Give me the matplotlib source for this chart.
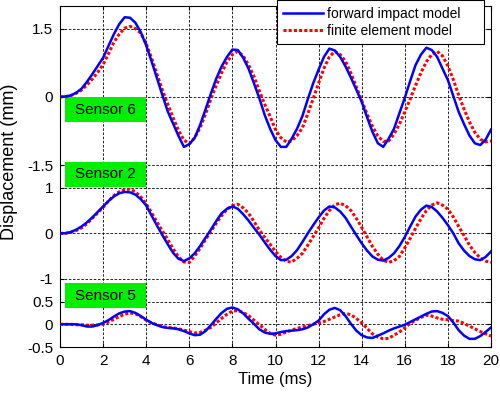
import numpy as np
import matplotlib
matplotlib.use("Agg")
import matplotlib.pyplot as plt
from matplotlib.patches import Rectangle

plt.rcParams["font.family"] = ["Liberation Sans", "DejaVu Sans"]

# time axis (ms), sampled every 0.25 ms
t = np.arange(0, 20.001, 0.25)

# sensor 6 (top trace)
s6_fim = [0, 0.01, 0.03, 0.09, 0.18, 0.33, 0.50, 0.68, 0.86, 1.12, 1.38, 1.60, 1.75, 1.74, 1.63, 1.42,
          1.13, 0.78, 0.41, 0.04, -0.32, -0.59, -0.86, -1.10, -1.04, -0.90, -0.62, -0.28, 0.07, 0.40, 0.67, 0.88,
          1.04, 1.03, 0.86, 0.62, 0.30, -0.03, -0.40, -0.70, -0.95, -1.10, -1.10, -0.92, -0.70, -0.42, -0.05, 0.30,
          0.60, 0.88, 1.06, 1.02, 0.88, 0.67, 0.42, 0.16, -0.11, -0.45, -0.77, -1.02, -1.10, -0.92, -0.70, -0.36,
          -0.02, 0.35, 0.70, 0.93, 1.08, 1.03, 0.88, 0.62, 0.37, 0.02, -0.33, -0.60, -0.85, -1.02, -1.06, -0.94,
          -0.72]
s6_fem = [0, 0.0, 0.03, 0.08, 0.15, 0.26, 0.39, 0.54, 0.71, 0.95, 1.20, 1.38, 1.51, 1.55, 1.50, 1.40,
          1.17, 0.85, 0.50, 0.15, -0.16, -0.46, -0.74, -0.95, -1.03, -0.90, -0.68, -0.38, -0.05, 0.25, 0.53, 0.77,
          0.93, 1.00, 0.90, 0.70, 0.45, 0.13, -0.16, -0.43, -0.72, -0.90, -0.99, -0.97, -0.85, -0.68, -0.37, -0.04,
          0.30, 0.63, 0.88, 1.00, 0.93, 0.78, 0.52, 0.22, -0.08, -0.38, -0.65, -0.86, -0.98, -0.97, -0.82, -0.60,
          -0.33, -0.05, 0.25, 0.53, 0.77, 0.93, 1.00, 0.90, 0.68, 0.38, 0.04, -0.27, -0.55, -0.78, -0.93, -0.99,
          -0.97]

# sensor 2 (middle trace)
s2_fim = [0, 0.0, 0.03, 0.08, 0.15, 0.24, 0.35, 0.47, 0.59, 0.71, 0.81, 0.88, 0.91, 0.90, 0.85, 0.75,
          0.61, 0.39, 0.17, -0.04, -0.24, -0.43, -0.56, -0.61, -0.55, -0.44, -0.28, -0.10, 0.08, 0.27, 0.44, 0.54,
          0.59, 0.54, 0.42, 0.28, 0.12, -0.03, -0.20, -0.36, -0.50, -0.59, -0.58, -0.50, -0.37, -0.19, 0.00, 0.18,
          0.35, 0.50, 0.59, 0.57, 0.48, 0.34, 0.15, -0.04, -0.22, -0.38, -0.51, -0.58, -0.60, -0.54, -0.44, -0.28,
          -0.08, 0.15, 0.37, 0.52, 0.61, 0.58, 0.48, 0.34, 0.18, 0.00, -0.22, -0.38, -0.50, -0.57, -0.59, -0.52,
          -0.40]
s2_fem = [0, 0.0, 0.02, 0.06, 0.12, 0.21, 0.33, 0.45, 0.57, 0.71, 0.83, 0.91, 0.96, 0.97, 0.91, 0.80,
          0.65, 0.45, 0.25, 0.05, -0.14, -0.34, -0.52, -0.63, -0.64, -0.50, -0.33, -0.14, 0.04, 0.22, 0.39, 0.53,
          0.61, 0.64, 0.56, 0.44, 0.26, 0.07, -0.09, -0.24, -0.40, -0.53, -0.62, -0.63, -0.55, -0.44, -0.26, -0.07,
          0.12, 0.33, 0.50, 0.63, 0.66, 0.61, 0.50, 0.33, 0.13, -0.08, -0.29, -0.46, -0.59, -0.64, -0.60, -0.51,
          -0.32, -0.11, 0.11, 0.32, 0.50, 0.62, 0.67, 0.62, 0.53, 0.36, 0.15, -0.05, -0.26, -0.42, -0.54, -0.61,
          -0.64]

# sensor 5 (bottom trace)
s5_fim = [0, 0, 0, 0, -0.02, -0.05, -0.05, -0.02, 0.03, 0.09, 0.17, 0.24, 0.28, 0.29, 0.25, 0.18,
          0.10, 0.03, -0.02, -0.06, -0.08, -0.09, -0.11, -0.15, -0.20, -0.24, -0.23, -0.15, -0.02, 0.12, 0.25, 0.34,
          0.37, 0.33, 0.24, 0.12, 0.01, -0.11, -0.18, -0.21, -0.20, -0.17, -0.15, -0.14, -0.13, -0.11, -0.07, 0.00,
          0.08, 0.22, 0.32, 0.36, 0.31, 0.18, 0.01, -0.14, -0.24, -0.29, -0.30, -0.25, -0.20, -0.14, -0.09, -0.05,
          -0.01, 0.05, 0.11, 0.17, 0.23, 0.28, 0.29, 0.25, 0.18, 0.04, -0.13, -0.25, -0.32, -0.32, -0.26, -0.17,
          -0.07]
s5_fem = [0, 0, 0, -0.01, -0.01, -0.02, -0.02, -0.01, 0.0, 0.05, 0.11, 0.17, 0.22, 0.25, 0.23, 0.17,
          0.09, 0.03, -0.01, -0.05, -0.07, -0.08, -0.10, -0.13, -0.16, -0.19, -0.18, -0.13, -0.07, 0.03, 0.13, 0.22,
          0.29, 0.30, 0.26, 0.19, 0.09, -0.01, -0.11, -0.20, -0.24, -0.22, -0.17, -0.13, -0.09, -0.06, -0.03, 0.00,
          0.03, 0.06, 0.11, 0.16, 0.21, 0.24, 0.21, 0.13, 0.03, -0.09, -0.21, -0.28, -0.32, -0.31, -0.24, -0.17,
          -0.08, 0.02, 0.09, 0.15, 0.20, 0.18, 0.14, 0.11, 0.10, 0.08, 0.07, 0.02, -0.04, -0.10, -0.16, -0.21,
          -0.26]

sensors = ["Sensor 6", "Sensor 2", "Sensor 5"]
fim_all = [s6_fim, s2_fim, s5_fim]
fem_all = [s6_fem, s2_fem, s5_fem]
offsets = [5, 2, 0]          # vertical stacking of the traces
ranges = [1.5, 1, 0.5]       # +/- tick value shown for each trace

fig = plt.figure(figsize=(5, 3.93), dpi=100)
ax = fig.add_axes([0.12, 0.117, 0.862, 0.868])

blue = "#0000ff"
red = "#ff0000"
for off, fim, fem in zip(offsets, fim_all, fem_all):
    l1, = ax.plot(t, np.array(fim) + off, color=blue, lw=1.8, zorder=4)
    l2, = ax.plot(t, np.array(fem) + off, color=red, lw=2.2, ls=(0, (1, 0.7)), zorder=3)

# green labels
box_y = [4.44, 3.02, 0.35]
for name, y0 in zip(sensors, box_y):
    ax.add_patch(Rectangle((0.22, y0), 3.75, 0.55, facecolor="#00ee00", edgecolor="none", zorder=2))
    ax.text(0.22 + 3.75 / 2, y0 + 0.275, name, ha="center", va="center", fontsize=11, zorder=2.5)

yt, yl = [], []
for off, r in zip(offsets[::-1], ranges[::-1]):
    yt += [off - r, off, off + r]
    yl += [f"{-r:g}", "0", f"{r:g}"]
ax.set_yticks(yt)
ax.set_yticklabels(yl)
ax.set_xticks(np.arange(0, 21, 2))
ax.set_xlim(0, 20)
ax.set_ylim(-0.5, 7)
ax.grid(True, color="black", ls=(0, (3, 2)), lw=0.6)
ax.set_axisbelow(True)
ax.tick_params(direction="in", top=True, right=True, length=3, labelsize=11, pad=5)
for s in ax.spines.values():
    s.set_linewidth(0.8)

ax.set_xlabel("Time (ms)", fontsize=12, labelpad=3)
ax.set_ylabel("Displacement (mm)", fontsize=13)
ax.yaxis.set_label_coords(-0.098, 0.5425)

leg = ax.legend([l1, l2], ["forward impact model", "finite element model"], loc="upper left",
                bbox_to_anchor=(0.5035, 1.016, 0.4803, 0), mode="expand", borderaxespad=0,
                fontsize=10, fancybox=False, framealpha=1, edgecolor="black",
                handlelength=2.85, borderpad=0.45, labelspacing=0.25, handletextpad=0.3)
leg.get_frame().set_linewidth(0.8)
leg.set_zorder(10)

fig.savefig("out.png", dpi=100)
